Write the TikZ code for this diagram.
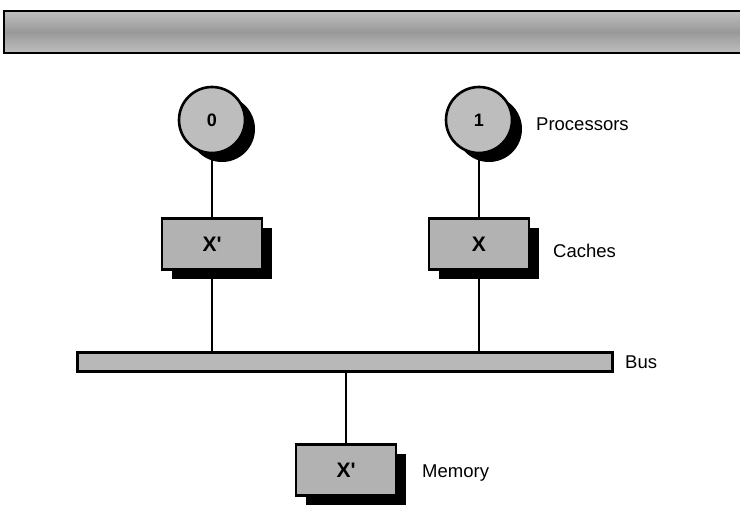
\documentclass[tikz,border=0pt]{standalone}
\usepackage{fontspec}
\setmainfont{Liberation Sans}
\usetikzlibrary{shadows}
\definecolor{boxgray}{gray}{0.70}
\definecolor{circgray}{gray}{0.74}
\definecolor{busgray}{gray}{0.72}
\tikzset{
  shadowed/.style={drop shadow={shadow xshift=10pt, shadow yshift=-9pt, fill=black, opacity=1}},
  proc/.style={circle, draw=black, line width=2.6pt, fill=circgray, minimum size=66pt, inner sep=0pt,
    font=\fontsize{18}{18}\selectfont\bfseries, shadowed},
  unit/.style={rectangle, draw=black, line width=2.4pt, fill=boxgray, minimum width=100pt, minimum height=51pt,
    inner sep=0pt, font=\fontsize{21}{21}\selectfont\bfseries, shadowed},
  busbar/.style={rectangle, draw=black, line width=2.4pt, fill=busgray, minimum width=535pt, minimum height=19pt, inner sep=0pt},
  lbl/.style={anchor=west, inner sep=0pt, font=\fontsize{18.5}{18.5}\selectfont},
  wire/.style={draw=black, line width=1.7pt}
}
\begin{document}
\begin{tikzpicture}[x=1pt,y=-1pt]
\useasboundingbox (0,0) rectangle (740,530);
\fill[white] (0,0) rectangle (740,530);
\begin{scope}
\clip (0,0) rectangle (740,530);
\shade[top color=gray!50, bottom color=gray!50, middle color=gray!80] (4,11) rectangle (746,53);
\draw[line width=2.2pt] (746,11) -- (4,11) -- (4,53) -- (746,53);
\end{scope}
\node[proc] (p0) at (212,120) {0};
\node[proc] (p1) at (479,120) {1};
\node[lbl] (lp) at (536,124) {Processors};
\node[unit] (c0) at (212,244) {X\textquotesingle};
\node[unit] (c1) at (479,244) {X};
\node[lbl] (lc) at (553,251) {Caches};
\node[busbar] (bus) at (345,362) {};
\node[lbl] (lb) at (625,362) {Bus};
\node[unit] (mem) at (346,470) {X\textquotesingle};
\node[lbl] (lm) at (422,473) {Memory};
\draw[wire] (p0) -- (c0);
\draw[wire] (p1) -- (c1);
\draw[wire] (c0.south) -- (c0.south |- bus.north);
\draw[wire] (c1.south) -- (c1.south |- bus.north);
\draw[wire] (mem.north |- bus.south) -- (mem.north);
\end{tikzpicture}
\end{document}
